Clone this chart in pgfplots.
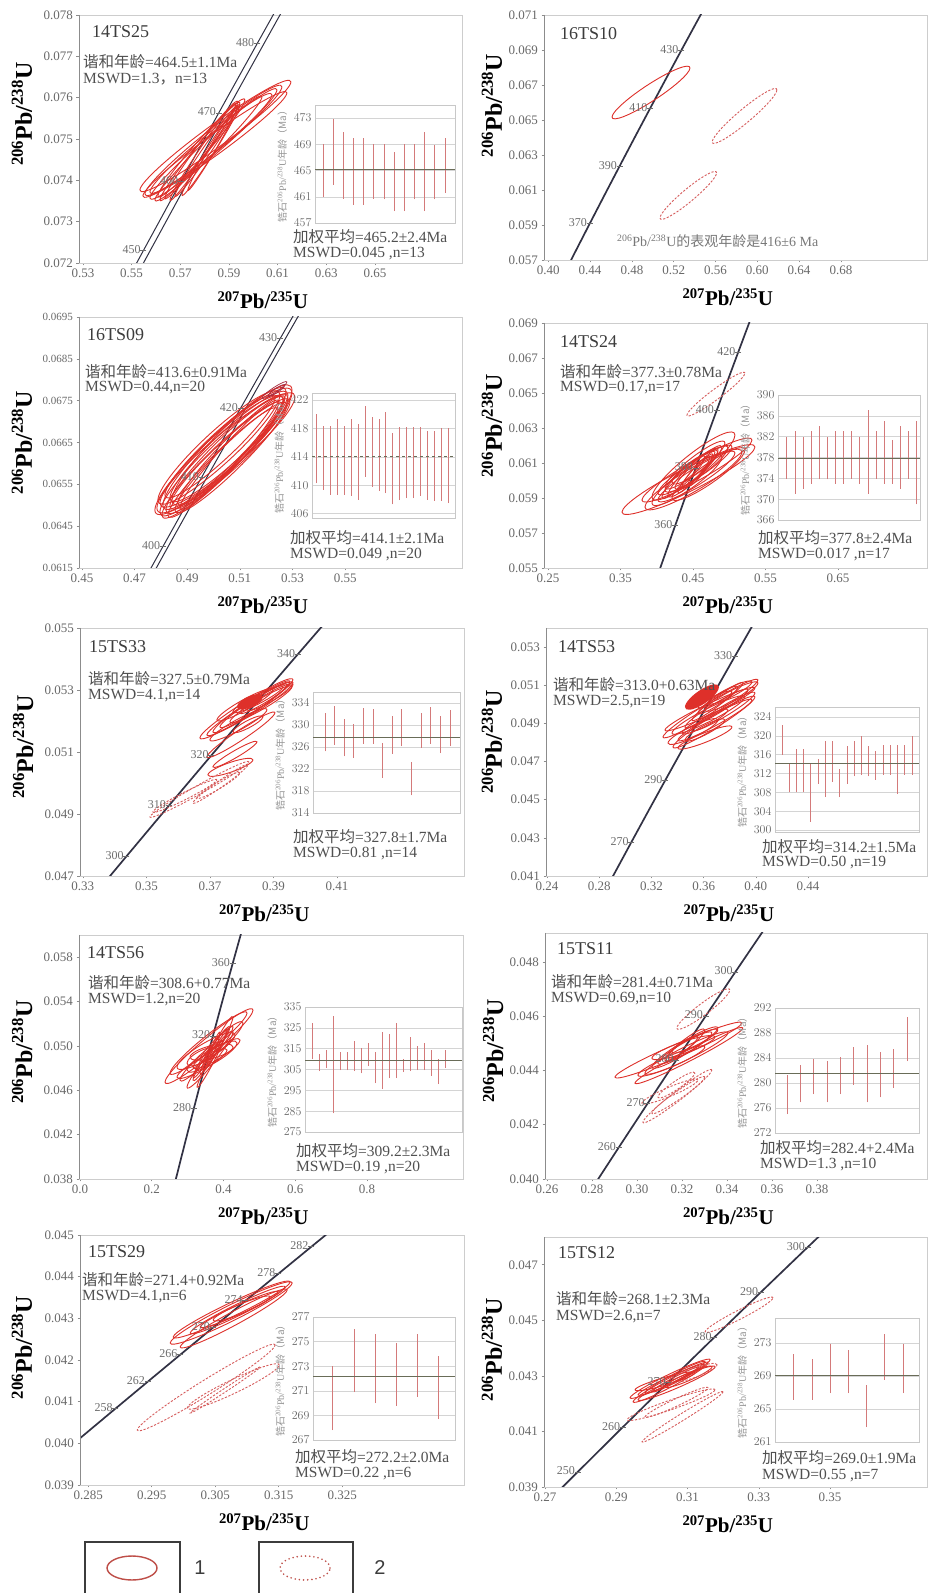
\documentclass[border=0pt]{standalone}
\usepackage{fontspec}
\setmainfont{Liberation Serif}
\newfontfamily\cjk{Noto Sans CJK SC}
\newfontfamily\lsans{Liberation Sans}
\usepackage{pgfplots}
\pgfplotsset{compat=1.18}

\definecolor{ellred}{RGB}{222,48,42}
\definecolor{elldash}{RGB}{214,92,92}
\definecolor{elldk}{RGB}{165,40,60}
\definecolor{concc}{RGB}{50,50,68}
\definecolor{tickgray}{RGB}{105,105,105}
\definecolor{txtgray}{RGB}{80,80,80}
\definecolor{namegray}{RGB}{60,60,60}
\definecolor{labgray}{RGB}{110,110,110}
\definecolor{frameL}{RGB}{140,140,140}
\definecolor{frameR}{RGB}{205,205,205}
\definecolor{barred}{RGB}{212,122,122}
\definecolor{meanc}{RGB}{105,108,88}
\definecolor{gridc}{RGB}{212,212,212}
\definecolor{insetframe}{RGB}{200,200,200}
\definecolor{lablight}{RGB}{150,150,150}
\definecolor{legred}{RGB}{190,78,72}
\definecolor{legframe}{RGB}{60,60,60}

\pgfdeclareplotmark{nothing}{}
\newcommand\ellipsepath{\pgfpathellipse{\pgfpointorigin}{\pgfplotspointaxisdirectionxy{\epx}{\epy}}{\pgfplotspointaxisdirectionxy{0}{\eqy}}}
\newcommand\xhnl{{\cjk 谐和年龄}}
\newcommand\jqpj{{\cjk 加权平均}}
\newcommand\lframe{\draw[frameL, line width=0.9pt] (rel axis cs:0,1) -- (rel axis cs:0,0) -- (rel axis cs:1,0);}

\pgfplotsset{
  ellbase/.style={forget plot, only marks, scatter, mark=nothing,
    visualization depends on={value \thisrow{px}\as\epx},
    visualization depends on={value \thisrow{py}\as\epy},
    visualization depends on={value \thisrow{qy}\as\eqy},
    scatter/@post marker code/.code={}},
  ell/.style={ellbase, scatter/@pre marker code/.code={\pgfsetstrokecolor{ellred}\pgfsetlinewidth{0.9pt}\pgfsetdash{}{0pt}\ellipsepath\pgfusepath{stroke}}},
  elld/.style={ellbase, scatter/@pre marker code/.code={\pgfsetstrokecolor{elldash}\pgfsetlinewidth{0.9pt}\pgfsetdash{{2.2pt}{1.6pt}}{0pt}\ellipsepath\pgfusepath{stroke}}},
  elldk/.style={ellbase, scatter/@pre marker code/.code={\pgfsetstrokecolor{elldk}\pgfsetlinewidth{0.7pt}\pgfsetdash{}{0pt}\ellipsepath\pgfusepath{stroke}}},
  ellf/.style={ellbase, scatter/@pre marker code/.code={\pgfsetfillcolor{ellred}\ellipsepath\pgfusepath{fill}}},
  legsolid/.style={ellbase, scatter/@pre marker code/.code={\pgfsetstrokecolor{legred}\pgfsetlinewidth{1.4pt}\pgfsetdash{}{0pt}\ellipsepath\pgfusepath{stroke}}},
  legdot/.style={ellbase, scatter/@pre marker code/.code={\pgfsetstrokecolor{legred}\pgfsetlinewidth{1.8pt}\pgfsetroundcap\pgfsetdash{{0pt}{4.2pt}}{0pt}\ellipsepath\pgfusepath{stroke}}},
  mainax/.style={scale only axis, anchor=south west,
    axis line style={draw=frameR, line width=0.8pt},
    tick align=outside, tick pos=left, major tick length=2.5pt,
    tick style={draw=frameL, line width=0.6pt},
    scaled ticks=false,
    tick label style={font=\fontsize{13}{15}\selectfont, text=tickgray},
    xlabel={\bfseries\textsuperscript{207}Pb/\textsuperscript{235}U},
    ylabel={\bfseries\textsuperscript{206}Pb/\textsuperscript{238}U},
    xlabel style={at={(axis description cs:0.48,0)}, anchor=center, yshift=-37pt, font=\fontsize{21}{24}\selectfont},
    ylabel style={anchor=center, font=\fontsize{24}{28}\selectfont}},
  ylpos/.style 2 args={ylabel style={at={(axis description cs:#1,#2)}}},
  inset/.style={scale only axis, anchor=south west,
    axis background/.style={fill=white},
    axis line style={draw=insetframe, line width=0.6pt},
    xtick=\empty, ytick pos=left, major tick length=0pt,
    ymajorgrids, grid style={draw=gridc, line width=0.5pt},
    tick label style={font=\fontsize{12.5}{13}\selectfont, text=tickgray},
    ylabel={{\cjk 锆石}\textsuperscript{206}Pb/\textsuperscript{238}U{\cjk 年龄（Ma）}},
    ylabel style={font=\fontsize{10}{11}\selectfont, text=lablight}},
  bars/.style={forget plot, draw=none, mark=none, error bars/.cd, y dir=plus, y explicit, error mark=none, error bar style={draw=barred, line width=1.0pt, solid}},
  meanl/.style={forget plot, draw=meanc, line width=0.9pt, mark=none},
  conc/.style={forget plot, draw=concc, line width=1.7pt, mark=none},
  concb/.style={forget plot, draw=concc, line width=1.0pt, mark=none},
  clab/.style={forget plot, only marks, mark=-, mark size=3pt, mark options={draw=labgray, line width=0.7pt},
    point meta=explicit symbolic, nodes near coords,
    every node near coord/.append style={anchor=east, font=\fontsize{12}{13}\selectfont, text=labgray, inner sep=1pt, xshift=-1.5pt, yshift=1pt}},
}
\tikzset{ann/.style={anchor=west, inner sep=0pt, text=txtgray, font=\fontsize{15.5}{17}\selectfont},
  nm/.style={anchor=west, inner sep=0pt, text=namegray, font=\fontsize{18}{20}\selectfont}}

\begin{document}
\begin{tikzpicture}
\path[use as bounding box, fill=white] (0,0) rectangle (929pt,1593pt);

%================ P1 14TS25
\begin{axis}[mainax, at={(79pt,1330pt)}, width=383pt, height=248pt, ylpos={-0.149}{0.60},
  xmin=0.5284, xmax=0.6858, ymin=0.072, ymax=0.078,
  xtick={0.53,0.55,0.57,0.59,0.61,0.63,0.65}, xticklabels={0.53,0.55,0.57,0.59,0.61,0.63,0.65},
  ytick={0.072,0.073,0.074,0.075,0.076,0.077,0.078}, yticklabels={0.072,0.073,0.074,0.075,0.076,0.077,0.078}]
\addplot[concb] coordinates {(0.55000,0.071469) (0.55766,0.072300) (0.57307,0.073965) (0.58864,0.075632) (0.60437,0.077302) (0.62024,0.078975)};
\addplot[concb] coordinates {(0.54720,0.071469) (0.55486,0.072300) (0.57027,0.073965) (0.58584,0.075632) (0.60157,0.077302) (0.61744,0.078975)};
\addplot[ell] table {
x y px py qy
0.58446 0.075073 0.03103 0.001307 0.000327
0.58425 0.074868 0.02959 0.001246 0.000291
0.58364 0.074880 0.02610 0.001307 0.000291
0.58158 0.074770 0.02199 0.001246 0.000254
0.57870 0.074783 0.01788 0.001162 0.000254
0.57809 0.074698 0.01644 0.001174 0.000218
0.57870 0.074735 0.01500 0.001162 0.000218
0.57932 0.074686 0.01356 0.001162 0.000182
0.58076 0.074710 0.01295 0.001089 0.000182
0.58261 0.074735 0.01192 0.001089 0.000182
0.58261 0.074892 0.02507 0.001174 0.000291
0.58322 0.074759 0.01007 0.000992 0.000150
0.58364 0.074965 0.02815 0.001295 0.000327
};
\addplot[clab] table[meta=lab] {
x y lab
0.55486 0.072300 450
0.57027 0.073965 460
0.58584 0.075632 470
0.60157 0.077302 480
};
\lframe
\end{axis}
\begin{axis}[inset, at={(315pt,1370pt)}, width=140pt, height=118pt,
  xmin=0.21, xmax=13.98, ymin=457, ymax=475, ytick={457,461,465,469,473}]
\addplot[bars] table[x=i, y=lo, y error expr=\thisrow{hi}-\thisrow{lo}] {
i lo hi
1 461 469
2 462.8 472.9
3 460.7 470.9
4 459.8 469.9
5 459.8 469.9
6 460.7 469
7 460.6 469
8 458.8 467.9
9 458.8 469
10 460.6 469
11 458.8 470.9
12 460.6 468.9
13 461.6 469.9
};
\addplot[meanl] coordinates {(0.21,465.2) (13.98,465.2)};
\end{axis}
\node[nm] at (92pt,1561pt) {14TS25};
\node[ann] at (83pt,1531pt) {\xhnl=464.5±1.1Ma};
\node[ann] at (83pt,1514pt) {MSWD=1.3{\cjk ，}n=13};
\node[ann] at (293pt,1356pt) {\jqpj=465.2±2.4Ma};
\node[ann] at (293pt,1339pt) {MSWD=0.045 ,n=13};

%================ P2 16TS10
\begin{axis}[mainax, at={(544pt,1333pt)}, width=383pt, height=245pt, ylpos={-0.136}{0.63},
  xmin=0.3959, xmax=0.7624, ymin=0.057, ymax=0.071,
  xtick={0.40,0.44,0.48,0.52,0.56,0.60,0.64,0.68}, xticklabels={0.40,0.44,0.48,0.52,0.56,0.60,0.64,0.68},
  ytick={0.057,0.059,0.061,0.063,0.065,0.067,0.069,0.071}, yticklabels={0.057,0.059,0.061,0.063,0.065,0.067,0.069,0.071}]
\addplot[conc] coordinates {(0.41853,0.056614) (0.42553,0.057434) (0.43964,0.059076) (0.45389,0.060720) (0.46828,0.062366) (0.48281,0.064016) (0.49749,0.065668) (0.51231,0.067322) (0.52728,0.068979) (0.54239,0.070638) (0.55000,0.071469)};
\addplot[ell] table {
x y px py qy
0.4983 0.06657 0.0373 0.0014 0.00055
};
\addplot[elld] table {
x y px py qy
0.5878 0.06523 0.0310 0.00149 0.0005
0.5340 0.06069 0.0271 0.00129 0.00046
};
\addplot[clab] table[meta=lab] {
x y lab
0.43964 0.059076 370
0.46828 0.062366 390
0.49749 0.065668 410
0.52728 0.068979 430
};
\lframe
\end{axis}
\node[nm] at (560pt,1559pt) {16TS10};
\node[ann, font=\fontsize{14}{16}\selectfont, text=lablight!80!black] at (617pt,1352pt) {\textsuperscript{206}Pb/\textsuperscript{238}U{\cjk 的表观年龄是}416±6 Ma};

%================ P3 16TS09
\begin{axis}[mainax, at={(79pt,1025pt)}, width=383pt, height=251pt, ylpos={-0.149}{0.50},
  xmin=0.4489, xmax=0.5944, ymin=0.0635, ymax=0.0695,
  xtick={0.45,0.47,0.49,0.51,0.53,0.55}, xticklabels={0.45,0.47,0.49,0.51,0.53,0.55},
  ytick={0.0635,0.0645,0.0655,0.0665,0.0675,0.0685,0.0695}, yticklabels={0.0615,0.0645,0.0655,0.0665,0.0675,0.0685,0.0695},
  yticklabel style={font=\fontsize{11}{12}\selectfont}]
\addplot[concb] coordinates {(0.47553,0.063191) (0.48281,0.064016) (0.49749,0.065668) (0.51231,0.067322) (0.52728,0.068979) (0.53482,0.069808)};
\addplot[concb] coordinates {(0.47353,0.063191) (0.48081,0.064016) (0.49549,0.065668) (0.51031,0.067322) (0.52528,0.068979) (0.53282,0.069808)};
\addplot[ell] table {
x y px py qy
0.50415 0.066308 0.02565 0.001374 0.00058
0.50396 0.066201 0.02432 0.001362 0.000516
0.50415 0.066356 0.02337 0.00135 0.000548
0.50434 0.066201 0.02242 0.001315 0.000485
0.50206 0.06638 0.02318 0.001255 0.000516
0.50624 0.066225 0.0228 0.001243 0.000452
0.5032 0.066081 0.0228 0.001315 0.000452
0.507 0.06644 0.0228 0.001315 0.00058
0.50244 0.066404 0.0209 0.001159 0.00042
0.50662 0.066141 0.02128 0.001255 0.00042
0.50358 0.066021 0.0209 0.001255 0.000387
0.50529 0.06632 0.02565 0.001267 0.000516
0.50681 0.066308 0.02033 0.001255 0.000387
0.50206 0.066201 0.02432 0.001315 0.000548
0.50586 0.066404 0.02242 0.001231 0.000485
0.50605 0.066201 0.01881 0.001267 0.000355
};
\addplot[elldk] table {
x y px py qy
0.52315 0.067754 0.00475 0.000191 0.00007
0.52391 0.067742 0.00323 0.000131 0.00006
};
\addplot[clab] table[meta=lab] {
x y lab
0.48081 0.064016 400
0.49549 0.065668 410
0.51031 0.067322 420
0.52528 0.068979 430
};
\lframe
\end{axis}
\begin{axis}[inset, at={(312pt,1075pt)}, width=143pt, height=125pt,
  xmin=0.28, xmax=21.0, ymin=405.4, ymax=423, ytick={406,410,414,418,422}]
\addplot[bars] table[x=i, y=lo, y error expr=\thisrow{hi}-\thisrow{lo}] {
i lo hi
1 410.3 420.1
2 409.4 418.3
3 408.7 418.3
4 408.7 419.4
5 408.7 418.4
6 408.5 419.4
7 408.0 418.7
8 411.2 421.2
9 409.8 419.6
10 409.2 419.4
11 408.9 420.3
12 407.3 417.3
13 407.9 418.2
14 408.2 418.2
15 408.2 418.2
16 408.5 418.2
17 408.0 417.7
18 407.8 417.7
19 407.8 418.0
20 407.5 418.0
};
\addplot[meanl, dashed] coordinates {(0.28,414.1) (21.0,414.1)};
\end{axis}
\node[nm] at (87pt,1258pt) {16TS09};
\node[ann] at (85pt,1221pt) {\xhnl=413.6±0.91Ma};
\node[ann] at (85pt,1205pt) {MSWD=0.44,n=20};
\node[ann] at (290pt,1055pt) {\jqpj=414.1±2.1Ma};
\node[ann] at (290pt,1038pt) {MSWD=0.049 ,n=20};

%================ P4 14TS24
\begin{axis}[mainax, at={(544pt,1025pt)}, width=383pt, height=245pt, ylpos={-0.136}{0.58},
  xmin=0.2445, xmax=0.7728, ymin=0.055, ymax=0.069,
  xtick={0.25,0.35,0.45,0.55,0.65}, xticklabels={0.25,0.35,0.45,0.55,0.65},
  ytick={0.055,0.057,0.059,0.061,0.063,0.065,0.067,0.069}, yticklabels={0.055,0.057,0.059,0.061,0.063,0.065,0.067,0.069}]
\addplot[conc] coordinates {(0.40463,0.054976) (0.41156,0.055795) (0.42553,0.057434) (0.43964,0.059076) (0.45389,0.060720) (0.46828,0.062366) (0.48281,0.064016) (0.49749,0.065668) (0.51231,0.067322) (0.52728,0.068979) (0.53482,0.069808)};
\addplot[ell] table {
x y px py qy
0.44375 0.060053 0.0917 0.001856 0.00073
0.45547 0.060596 0.07585 0.001713 0.00064
0.45064 0.060824 0.05723 0.00177 0.00082
0.45271 0.060596 0.05102 0.001313 0.00055
0.45478 0.060653 0.04344 0.001199 0.00055
0.45 0.060453 0.03448 0.001285 0.00055
0.45754 0.060739 0.03241 0.001171 0.00046
0.47133 0.060367 0.05033 0.00137 0.00064
0.45478 0.060482 0.02551 0.001142 0.00036
0.44168 0.060025 0.04827 0.001313 0.00064
0.45478 0.060225 0.05309 0.001342 0.00055
0.45409 0.060482 0.01931 0.000857 0.00036
0.45271 0.060881 0.04137 0.001256 0.00055
0.45064 0.060053 0.06688 0.00157 0.00073
0.45271 0.060767 0.03172 0.000857 0.00046
0.43685 0.060196 0.02965 0.001142 0.00046
0.4603 0.060596 0.01724 0.000857 0.00036
};
\addplot[elld] table {
x y px py qy
0.48167 0.064935 0.04 0.001199 0.00036
};
\addplot[clab] table[meta=lab] {
x y lab
0.42553 0.057434 360
0.45389 0.060720 380
0.48281 0.064016 400
0.51231 0.067322 420
};
\lframe
\end{axis}
\begin{axis}[inset, at={(778pt,1073pt)}, width=142pt, height=125pt,
  xmin=-0.1, xmax=17.4, ymin=366, ymax=390, ytick={366,370,374,378,382,386,390}]
\addplot[bars] table[x=i, y=lo, y error expr=\thisrow{hi}-\thisrow{lo}] {
i lo hi
1 373.9 382
2 371 383.1
3 372 382
4 373 383.1
5 373.8 384.1
6 373.8 382
7 373 383.1
8 373 383.1
9 373.9 383.1
10 373 382
11 371 387.1
12 373.9 383.1
13 373 385
14 373 381.3
15 372 384.1
16 373.9 383.1
17 369 385
};
\addplot[meanl] coordinates {(-0.1,377.8) (17.4,377.8)};
\end{axis}
\node[nm] at (560pt,1251pt) {14TS24};
\node[ann] at (560pt,1221pt) {\xhnl=377.3±0.78Ma};
\node[ann] at (560pt,1205pt) {MSWD=0.17,n=17};
\node[ann] at (758pt,1055pt) {\jqpj=377.8±2.4Ma};
\node[ann] at (758pt,1038pt) {MSWD=0.017 ,n=17};

%================ P5 15TS33
\begin{axis}[mainax, at={(80pt,717pt)}, width=384pt, height=248pt, ylpos={-0.148}{0.52},
  xmin=0.3291, xmax=0.45, ymin=0.047, ymax=0.055,
  xtick={0.33,0.35,0.37,0.39,0.41}, xticklabels={0.33,0.35,0.37,0.39,0.41},
  ytick={0.047,0.049,0.051,0.053,0.055}, yticklabels={0.047,0.049,0.051,0.053,0.055}]
\addplot[conc] coordinates {(0.33714,0.046825) (0.34374,0.047637) (0.35704,0.049264) (0.37047,0.050893) (0.38403,0.052524) (0.39773,0.054158) (0.40740,0.055304)};
\addplot[ell] table {
x y px py qy
0.3815 0.052394 0.01465 0.000937 0.000258
0.38261 0.052394 0.01355 0.00084 0.000226
0.38308 0.052459 0.01213 0.000808 0.000226
0.38371 0.052491 0.01055 0.000678 0.000194
0.38607 0.052539 0.00977 0.000565 0.000194
0.38733 0.052749 0.00788 0.000485 0.000162
0.3889 0.052766 0.00725 0.000404 0.000162
0.38103 0.052523 0.00882 0.000485 0.000194
0.38513 0.052701 0.00788 0.000404 0.000162
0.37898 0.051877 0.00898 0.000485 0.000194
0.37977 0.051554 0.01071 0.000711 0.000194
0.37646 0.050505 0.00709 0.000242 0.000162
0.37788 0.050924 0.00693 0.000404 0.000129
0.38198 0.051893 0.00473 0.000242 0.000129
};
\addplot[elld] table {
x y px py qy
0.3667 0.049794 0.01559 0.000888 0.000162
0.37331 0.049972 0.00866 0.000614 0.000129
0.36213 0.049584 0.01008 0.000517 0.000129
0.37268 0.049923 0.00677 0.000404 0.000129
};
\addplot[ellf] table {
x y px py qy
0.3826 0.05262 0.0041 0.00016 0.00019
};
\addplot[clab] table[meta=lab] {
x y lab
0.34374 0.047637 300
0.35704 0.049264 310
0.37047 0.050893 320
0.39773 0.054158 340
};
\lframe
\end{axis}
\begin{axis}[inset, at={(313pt,780pt)}, width=147pt, height=121pt,
  xmin=-0.25, xmax=15.04, ymin=314, ymax=336, ytick={314,318,322,326,330,334}]
\addplot[bars] table[x=i, y=lo, y error expr=\thisrow{hi}-\thisrow{lo}] {
i lo hi
1 325.2 332.2
2 326.4 333.4
3 324.3 331
4 324 330.2
5 326.6 333.1
6 326.6 332.9
7 320.4 326.8
8 324.8 331.6
9 326.1 332.9
10 317.2 323.2
11 325.9 332.2
12 326.6 333.2
13 324.9 331.7
14 326.1 332.8
};
\addplot[meanl] coordinates {(-0.25,327.8) (15.04,327.8)};
\end{axis}
\node[nm] at (89pt,946pt) {15TS33};
\node[ann] at (88pt,914pt) {\xhnl=327.5±0.79Ma};
\node[ann] at (88pt,897pt) {MSWD=4.1,n=14};
\node[ann] at (293pt,756pt) {\jqpj=327.8±1.7Ma};
\node[ann] at (293pt,739pt) {MSWD=0.81 ,n=14};

%================ P6 14TS53
\begin{axis}[mainax, at={(546pt,717pt)}, width=381pt, height=248pt, ylpos={-0.142}{0.54},
  xmin=0.2392, xmax=0.5312, ymin=0.041, ymax=0.054,
  xtick={0.24,0.28,0.32,0.36,0.40,0.44}, xticklabels={0.24,0.28,0.32,0.36,0.40,0.44},
  ytick={0.041,0.043,0.045,0.047,0.049,0.051,0.053}, yticklabels={0.041,0.043,0.045,0.047,0.049,0.051,0.053}]
\addplot[conc] coordinates {(0.28929,0.040834) (0.29183,0.041157) (0.30462,0.042773) (0.31753,0.044392) (0.33057,0.046014) (0.34374,0.047637) (0.35704,0.049264) (0.37047,0.050893) (0.38403,0.052524) (0.39773,0.054158)};
\addplot[ell] table {
x y px py qy
0.36524 0.049777 0.03639 0.001493 0.000367
0.36486 0.049751 0.03447 0.0011 0.000314
0.36792 0.04907 0.03141 0.00131 0.000367
0.36869 0.049175 0.02834 0.001048 0.000314
0.36984 0.049777 0.02413 0.000969 0.000314
0.3706 0.050144 0.01953 0.000969 0.000262
0.36103 0.048258 0.02068 0.00055 0.000262
0.37099 0.050223 0.01532 0.000681 0.000262
0.38133 0.050406 0.0203 0.000707 0.000314
0.36103 0.049096 0.01762 0.000603 0.000262
0.35184 0.048572 0.01915 0.000603 0.000314
0.36869 0.050249 0.01302 0.000393 0.00021
0.36371 0.049437 0.02796 0.000943 0.000367
0.3752 0.04962 0.02413 0.000969 0.000314
0.38018 0.050616 0.01685 0.00055 0.000262
0.36103 0.048651 0.01532 0.000524 0.000262
};
\addplot[ellf] table {
x y px py qy
0.3587 0.05038 0.013 0.00052 0.00042
};
\addplot[clab] table[meta=lab] {
x y lab
0.30462 0.042773 270
0.33057 0.046014 290
0.38403 0.052524 330
};
\lframe
\end{axis}
\begin{axis}[inset, at={(775pt,761pt)}, width=144pt, height=125pt,
  xmin=0.03, xmax=19.97, ymin=299.6, ymax=326.1, ytick={300,304,308,312,316,320,324}]
\addplot[bars] table[x=i, y=lo, y error expr=\thisrow{hi}-\thisrow{lo}] {
i lo hi
1 316.0 322.2
2 308.0 314.2
3 308.0 317.2
4 308.0 317.2
5 301.8 314.2
6 309.8 315.1
7 307.0 318.8
8 310.3 318.8
9 307.0 313.0
10 309.8 317.8
11 311.4 318.8
12 311.7 320.0
13 311.4 317.8
14 310.7 316.7
15 311.7 318.1
16 311.7 318.1
17 307.7 318.1
18 311.7 318.1
19 311.7 320.0
};
\addplot[meanl] coordinates {(0.03,314.2) (19.97,314.2)};
\end{axis}
\node[nm] at (558pt,946pt) {14TS53};
\node[ann] at (553pt,908pt) {\xhnl=313.0+0.63Ma};
\node[ann] at (553pt,891pt) {MSWD=2.5,n=19};
\node[ann] at (762pt,746pt) {\jqpj=314.2±1.5Ma};
\node[ann] at (762pt,730pt) {MSWD=0.50 ,n=19};

%================ P7 14TS56
\begin{axis}[mainax, at={(79pt,414pt)}, width=384pt, height=244pt, ylpos={-0.148}{0.52},
  xmin=-0.0028, xmax=1.0674, ymin=0.038, ymax=0.060,
  xtick={0,0.2,0.4,0.6,0.8}, xticklabels={0.0,0.2,0.4,0.6,0.8},
  ytick={0.038,0.042,0.046,0.050,0.054,0.058}, yticklabels={0.038,0.042,0.046,0.050,0.054,0.058}]
\addplot[conc] coordinates {(0.26041,0.037127) (0.26664,0.037932) (0.29183,0.041157) (0.31753,0.044392) (0.34374,0.047637) (0.37047,0.050893) (0.39773,0.054158) (0.42553,0.057434) (0.45389,0.060720)};
\addplot[ell] table {
x y px py qy
0.35952 0.049981 0.12263 0.003244 0.00094
0.35813 0.050251 0.1073 0.002703 0.00082
0.35116 0.049531 0.08082 0.001442 0.00082
0.36231 0.048765 0.0641 0.002478 0.0007
0.36649 0.049305 0.05156 0.002388 0.000585
0.36788 0.049035 0.06968 0.001216 0.0007
0.37206 0.049486 0.03762 0.001937 0.000585
0.33444 0.048585 0.05574 0.001667 0.000585
0.38043 0.049305 0.0655 0.001216 0.000585
0.36231 0.048404 0.03623 0.002117 0.00047
0.38461 0.050206 0.04181 0.002388 0.000585
0.36649 0.049441 0.05992 0.00045 0.000585
0.37206 0.049801 0.01812 0.001352 0.00047
0.34001 0.048404 0.06968 0.001216 0.000585
0.39436 0.050387 0.05992 0.001667 0.0007
0.34001 0.049035 0.04181 0.000586 0.000585
0.39436 0.050342 0.03205 0.001352 0.00047
0.3428 0.04854 0.02787 0.001352 0.00047
};
\addplot[clab] table[meta=lab] {
x y lab
0.31753 0.044392 280
0.37047 0.050893 320
0.42553 0.057434 360
};
\lframe
\end{axis}
\begin{axis}[inset, at={(305pt,461pt)}, width=157pt, height=125pt,
  xmin=0, xmax=22.4, ymin=275, ymax=335, ytick={275,285,295,305,315,325,335}]
\addplot[bars] table[x=i, y=lo, y error expr=\thisrow{hi}-\thisrow{lo}] {
i lo hi
1 309.9 327.4
2 304.2 312.3
3 305.8 314.4
4 283.9 330.6
5 304.7 313.4
6 304.7 313.4
7 304.2 318.8
8 303.1 315.5
9 306.6 317.6
10 298.5 313.4
11 295.6 322.8
12 300.9 322.0
13 300.9 327.4
14 303.7 310.2
15 304.2 320.4
16 304.7 316.3
17 304.7 317.6
18 302.1 314.4
19 298.0 310.2
20 305.8 314.4
};
\addplot[meanl] coordinates {(0,309.2) (22.4,309.2)};
\end{axis}
\node[nm] at (87pt,640pt) {14TS56};
\node[ann] at (88pt,610pt) {\xhnl=308.6+0.77Ma};
\node[ann] at (88pt,593pt) {MSWD=1.2,n=20};
\node[ann] at (296pt,442pt) {\jqpj=309.2±2.3Ma};
\node[ann] at (296pt,425pt) {MSWD=0.19 ,n=20};

%================ P8 15TS11
\begin{axis}[mainax, at={(545pt,414pt)}, width=382pt, height=246pt, ylpos={-0.136}{0.52},
  xmin=0.2591, xmax=0.4289, ymin=0.040, ymax=0.04907,
  xtick={0.26,0.28,0.30,0.32,0.34,0.36,0.38}, xticklabels={0.26,0.28,0.30,0.32,0.34,0.36,0.38},
  ytick={0.040,0.042,0.044,0.046,0.048}, yticklabels={0.040,0.042,0.044,0.046,0.048}]
\addplot[conc] coordinates {(0.27917,0.039543) (0.29183,0.041157) (0.30462,0.042773) (0.31753,0.044392) (0.33057,0.046014) (0.34374,0.047637) (0.35704,0.049264)};
\addplot[ell] table {
x y px py qy
0.31839 0.044753 0.02819 0.000996 0.00026
0.32305 0.04455 0.02398 0.001015 0.00022
0.32194 0.044642 0.01843 0.000738 0.00026
0.32127 0.044845 0.01465 0.00072 0.00026
0.32127 0.044827 0.01199 0.000554 0.00022
0.32127 0.044937 0.00888 0.000554 0.00022
0.32061 0.044845 0.01399 0.000387 0.00022
0.32038 0.044864 0.00666 0.000369 0.00018
0.31528 0.044347 0.01487 0.000517 0.00022
0.32571 0.045085 0.01021 0.000406 0.00018
};
\addplot[elld] table {
x y px py qy
0.32949 0.046266 0.01177 0.000701 0.00026
0.31794 0.043055 0.01532 0.000959 0.00022
0.31461 0.043221 0.01243 0.000424 0.00018
0.31839 0.043092 0.01177 0.000664 0.00018
0.3175 0.043461 0.00821 0.000443 0.00018
};
\addplot[clab] table[meta=lab] {
x y lab
0.29183 0.041157 260
0.30462 0.042773 270
0.31753 0.044392 280
0.33057 0.046014 290
0.34374 0.047637 300
};
\lframe
\end{axis}
\begin{axis}[inset, at={(775pt,460pt)}, width=144pt, height=125pt,
  xmin=0.1, xmax=10.9, ymin=272, ymax=292, ytick={272,276,280,284,288,292}]
\addplot[bars] table[x=i, y=lo, y error expr=\thisrow{hi}-\thisrow{lo}] {
i lo hi
1 275 281.2
2 276.9 282.8
3 278.2 283.9
4 276.9 283.5
5 278.2 284.1
6 279.7 285.8
7 276.9 286.1
8 277.7 285
9 279.2 285.5
10 283.5 290.5
};
\addplot[meanl] coordinates {(0.1,281.6) (10.9,281.6)};
\end{axis}
\node[nm] at (557pt,644pt) {15TS11};
\node[ann] at (551pt,611pt) {\xhnl=281.4±0.71Ma};
\node[ann] at (551pt,594pt) {MSWD=0.69,n=10};
\node[ann] at (760pt,445pt) {\jqpj=282.4+2.4Ma};
\node[ann] at (760pt,428pt) {MSWD=1.3 ,n=10};

%================ P9 15TS29
\begin{axis}[mainax, at={(80pt,108pt)}, width=384pt, height=250pt, ylpos={-0.151}{0.55},
  xmin=0.2837, xmax=0.3442, ymin=0.039, ymax=0.045,
  xtick={0.285,0.295,0.305,0.315,0.325}, xticklabels={0.285,0.295,0.305,0.315,0.325},
  ytick={0.039,0.040,0.041,0.042,0.043,0.044,0.045}, yticklabels={0.039,0.040,0.041,0.042,0.043,0.044,0.045}]
\addplot[conc] coordinates {(0.27917,0.039543) (0.28422,0.040188) (0.28929,0.040834) (0.29438,0.041480) (0.29949,0.042126) (0.30462,0.042773) (0.30977,0.043421) (0.31494,0.044068) (0.32013,0.044716) (0.32534,0.045365)};
\addplot[ell] table {
x y px py qy
0.30752 0.043128 0.00961 0.00072 0.00021
0.3076 0.043212 0.00921 0.00066 0.00018
0.30792 0.042996 0.00843 0.000684 0.00018
0.30855 0.0432 0.00748 0.000552 0.00015
0.30878 0.043212 0.00614 0.00042 0.00012
0.30918 0.043236 0.00449 0.000276 0.00012
};
\addplot[elld] table {
x y px py qy
0.30359 0.04134 0.01087 0.00102 0.00021
0.30784 0.041364 0.00725 0.000516 0.00018
0.30658 0.04128 0.00551 0.000552 0.00005
};
\addplot[clab] table[meta=lab] {
x y lab
0.28929 0.040834 258
0.29438 0.041480 262
0.29949 0.042126 266
0.30462 0.042773 270
0.30977 0.043421 274
0.31494 0.044068 278
0.32013 0.044716 282
};
\lframe
\end{axis}
\begin{axis}[inset, at={(313pt,153pt)}, width=142pt, height=123pt,
  xmin=0.05, xmax=6.8, ymin=267, ymax=277, ytick={267,269,271,273,275,277}]
\addplot[bars] table[x=i, y=lo, y error expr=\thisrow{hi}-\thisrow{lo}] {
i lo hi
1 267.8 273
2 270.9 276
3 270 275.6
4 269.8 274.9
5 270.5 275.6
6 268.7 273.8
};
\addplot[meanl] coordinates {(0.05,272.2) (6.8,272.2)};
\end{axis}
\node[nm] at (88pt,341pt) {15TS29};
\node[ann] at (82pt,313pt) {\xhnl=271.4+0.92Ma};
\node[ann] at (82pt,296pt) {MSWD=4.1,n=6};
\node[ann] at (295pt,136pt) {\jqpj=272.2±2.0Ma};
\node[ann] at (295pt,119pt) {MSWD=0.22 ,n=6};

%================ P10 15TS12
\begin{axis}[mainax, at={(544pt,106pt)}, width=383pt, height=250pt, ylpos={-0.136}{0.55},
  xmin=0.2697, xmax=0.3772, ymin=0.039, ymax=0.048,
  xtick={0.27,0.29,0.31,0.33,0.35}, xticklabels={0.27,0.29,0.31,0.33,0.35},
  ytick={0.039,0.041,0.043,0.045,0.047}, yticklabels={0.039,0.041,0.043,0.045,0.047}]
\addplot[conc] coordinates {(0.27289,0.038737) (0.27917,0.039543) (0.29183,0.041157) (0.30462,0.042773) (0.31753,0.044392) (0.33057,0.046014) (0.34374,0.047637) (0.35037,0.04845)};
\addplot[ell] table {
x y px py qy
0.30509 0.042896 0.01123 0.000684 0.00018
0.30523 0.04277 0.01053 0.000702 0.00018
0.30551 0.04286 0.0094 0.00054 0.000144
0.30649 0.04295 0.00842 0.000558 0.000144
0.30649 0.04286 0.00646 0.000432 0.000108
0.30368 0.042806 0.00842 0.000306 0.000144
0.31028 0.042968 0.0066 0.00036 0.000144
0.30691 0.042734 0.01081 0.000594 0.00018
};
\addplot[elld] table {
x y px py qy
0.32446 0.0452 0.00954 0.000612 0.00018
0.30537 0.04196 0.01235 0.00054 0.00018
0.3086 0.041528 0.01137 0.0009 0.000144
0.30691 0.04205 0.00884 0.000522 0.000144
0.3114 0.043094 0.00688 0.000306 0.00018
};
\addplot[clab] table[meta=lab] {
x y lab
0.27917 0.039543 250
0.29183 0.041157 260
0.30462 0.042773 270
0.31753 0.044392 280
0.33057 0.046014 290
0.34374 0.047637 300
};
\lframe
\end{axis}
\begin{axis}[inset, at={(775pt,151pt)}, width=144pt, height=124pt,
  xmin=-0.04, xmax=7.88, ymin=261, ymax=276, ytick={261,265,269,273}]
\addplot[bars] table[x=i, y=lo, y error expr=\thisrow{hi}-\thisrow{lo}] {
i lo hi
1 266.1 271.7
2 266.1 271.1
3 266.9 272.8
4 266.9 272.1
5 262.8 267.9
6 268.5 274.1
7 266.9 272.8
};
\addplot[meanl] coordinates {(-0.04,269.0) (7.88,269.0)};
\end{axis}
\node[nm] at (558pt,340pt) {15TS12};
\node[ann] at (556pt,294pt) {\xhnl=268.1±2.3Ma};
\node[ann] at (556pt,276pt) {MSWD=2.6,n=7};
\node[ann] at (762pt,135pt) {\jqpj=269.0±1.9Ma};
\node[ann] at (762pt,117pt) {MSWD=0.55 ,n=7};

%================ Legend
\draw[legframe, line width=1.2pt] (85pt,0pt) -- (85pt,51pt) -- (180pt,51pt) -- (180pt,0pt);
\draw[legframe, line width=1.2pt] (259pt,0pt) -- (259pt,51pt) -- (353pt,51pt) -- (353pt,0pt);
\begin{axis}[at={(85pt,0pt)}, anchor=south west, scale only axis, width=95pt, height=51pt, hide axis, xmin=0, xmax=1, ymin=0, ymax=1]
\addplot[legsolid] table {
x y px py qy
0.495 0.49 0.263 0 0.235
};
\end{axis}
\begin{axis}[at={(259pt,0pt)}, anchor=south west, scale only axis, width=94pt, height=51pt, hide axis, xmin=0, xmax=1, ymin=0, ymax=1]
\addplot[legdot] table {
x y px py qy
0.49 0.49 0.266 0 0.235
};
\end{axis}
\node[font=\lsans\fontsize{20}{22}\selectfont, text=legframe] at (200pt,25pt) {1};
\node[font=\lsans\fontsize{20}{22}\selectfont, text=legframe] at (380pt,25pt) {2};
\end{tikzpicture}
\end{document}
